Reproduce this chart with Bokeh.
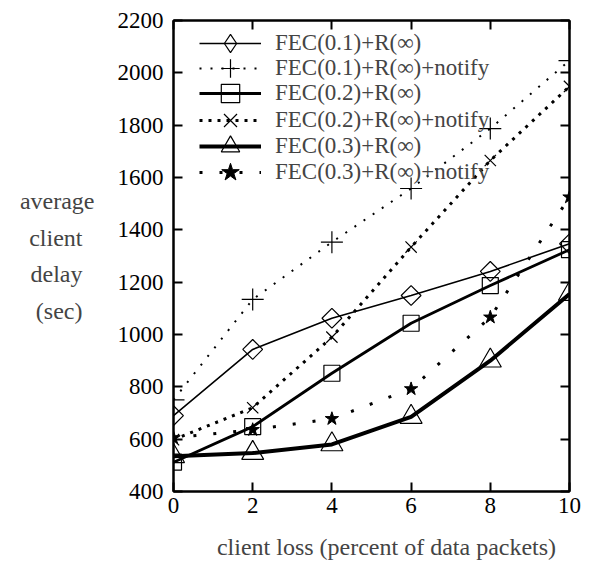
from bokeh.plotting import figure
from bokeh.models import (Range1d, FixedTicker, LinearAxis, Legend, LegendItem)
from bokeh.embed import file_html
from bokeh.resources import INLINE
import numpy as np

loss = [0, 2, 4, 6, 8, 10]
fec01 = [690, 943, 1062, 1149, 1241, 1347]
fec01_notify = [750, 1134, 1353, 1558, 1787, 2047]
fec02 = [512, 648, 852, 1043, 1187, 1324]
fec02_notify = [598, 720, 990, 1334, 1665, 1948]
fec03 = [535, 547, 580, 685, 900, 1155]
fec03_notify = [605, 636, 678, 792, 1066, 1525]

names = ["FEC(0.1)+R(\u221e)", "FEC(0.1)+R(\u221e)+notify", "FEC(0.2)+R(\u221e)",
         "FEC(0.2)+R(\u221e)+notify", "FEC(0.3)+R(\u221e)", "FEC(0.3)+R(\u221e)+notify"]
x_ticks = [0, 2, 4, 6, 8, 10]
y_ticks = [400, 600, 800, 1000, 1200, 1400, 1600, 1800, 2000, 2200]

FONT = "Liberation Serif"
FS = "23px"
NB = "\u00a0"

p = figure(width=590, height=567, output_backend="svg", toolbar_location=None,
           x_range=Range1d(0, 10), y_range=Range1d(400, 2200),
           min_border_left=173, min_border_right=21, min_border_top=20, min_border_bottom=76)
# a range that keeps the legend-only diamond series out of the frame
p.extra_y_ranges = {"legend_only": Range1d(5000, 6000)}
p.background_fill_color = "white"
p.border_fill_color = "white"
p.outline_line_color = "black"
p.outline_line_width = 2
p.xgrid.visible = False
p.ygrid.visible = False

for ax, ticks in ((p.xaxis[0], x_ticks), (p.yaxis[0], y_ticks)):
    ax.ticker = FixedTicker(ticks=ticks)
    ax.major_tick_in = 9
    ax.major_tick_out = 0
    ax.minor_tick_in = 0
    ax.minor_tick_out = 0
    ax.major_tick_line_width = 2
    ax.axis_line_width = 2
    ax.major_label_text_font = FONT
    ax.major_label_text_font_size = FS
    ax.major_label_text_color = "black"

p.xaxis.major_label_standoff = 6
p.yaxis.major_label_standoff = 10
p.xaxis.axis_label = NB * 5 + "client loss (percent of data packets)"
p.xaxis.axis_label_text_font = FONT
p.xaxis.axis_label_text_font_size = "24px"
p.xaxis.axis_label_text_font_style = "normal"
p.xaxis.axis_label_standoff = 18

p.yaxis.axis_label = ("average\n" + "client" + NB * 2 + "\n" + "delay" + NB * 2 +
                      "\n" + "(sec)" + NB * 2)
p.yaxis.axis_label_orientation = "horizontal"
p.yaxis.axis_label_text_font = FONT
p.yaxis.axis_label_text_font_size = "24px"
p.yaxis.axis_label_text_font_style = "normal"
p.yaxis.axis_label_text_line_height = 1.42
p.yaxis.axis_label_standoff = 20

for loc, ticks in (("above", x_ticks), ("right", y_ticks)):
    ax = LinearAxis(ticker=FixedTicker(ticks=ticks))
    ax.major_tick_in = 9
    ax.major_tick_out = 0
    ax.minor_tick_in = 0
    ax.minor_tick_out = 0
    ax.major_tick_line_width = 2
    ax.axis_line_width = 2
    ax.major_label_text_font_size = "0px"
    ax.major_label_standoff = 0
    p.add_layout(ax, loc)

r1 = p.line(loss, fec01, line_color="black", line_width=1.6)
m1 = p.scatter(loss, fec01, marker="square", angle=np.pi / 4, size=14,
               fill_color="white", fill_alpha=0, line_color="black", line_width=1.2)
m1_leg = p.scatter(loss, fec01, y_range_name="legend_only", marker="diamond", size=20,
                   fill_alpha=0, line_color="black", line_width=1.2)
r2 = p.line(loss, fec01_notify, line_color="black", line_width=2, line_dash="2 9")
m2 = p.scatter(loss, fec01_notify, marker="cross", size=22, line_color="black", line_width=1.2)
r3 = p.line(loss, fec02, line_color="black", line_width=2.8)
m3 = p.scatter(loss, fec02, marker="square", size=16, fill_alpha=0,
               line_color="black", line_width=1.2)
r4 = p.line(loss, fec02_notify, line_color="black", line_width=3, line_dash="3 6")
m4 = p.scatter(loss, fec02_notify, marker="x", size=16, line_color="black", line_width=1.2)
r5 = p.line(loss, fec03, line_color="black", line_width=4)
m5 = p.scatter(loss, fec03, marker="triangle", size=22, fill_alpha=0,
               line_color="black", line_width=1.2)
r6 = p.line(loss, fec03_notify, line_color="black", line_width=3, line_dash="3 17")
m6 = p.scatter(loss, fec03_notify, marker="star", size=14, fill_color="black",
               line_color="black", line_width=1)

# one single-row legend per series so the sample markers stay large
row_bottoms = [425, 400, 375, 348, 322, 296]
for n, r, m, yb in zip(names, [r1, r2, r3, r4, r5, r6], [m1_leg, m2, m3, m4, m5, m6], row_bottoms):
    lg = Legend(items=[LegendItem(label=n, renderers=[r, m])], location=(26, yb))
    lg.background_fill_alpha = 0
    lg.border_line_color = None
    lg.label_text_font = FONT
    lg.label_text_font_size = FS
    lg.glyph_width = 62
    lg.glyph_height = 46
    lg.label_height = 26
    lg.spacing = 0
    lg.padding = 0
    lg.margin = 0
    lg.label_standoff = 14
    p.add_layout(lg)

open("out.html", "w").write(file_html(p, INLINE))
